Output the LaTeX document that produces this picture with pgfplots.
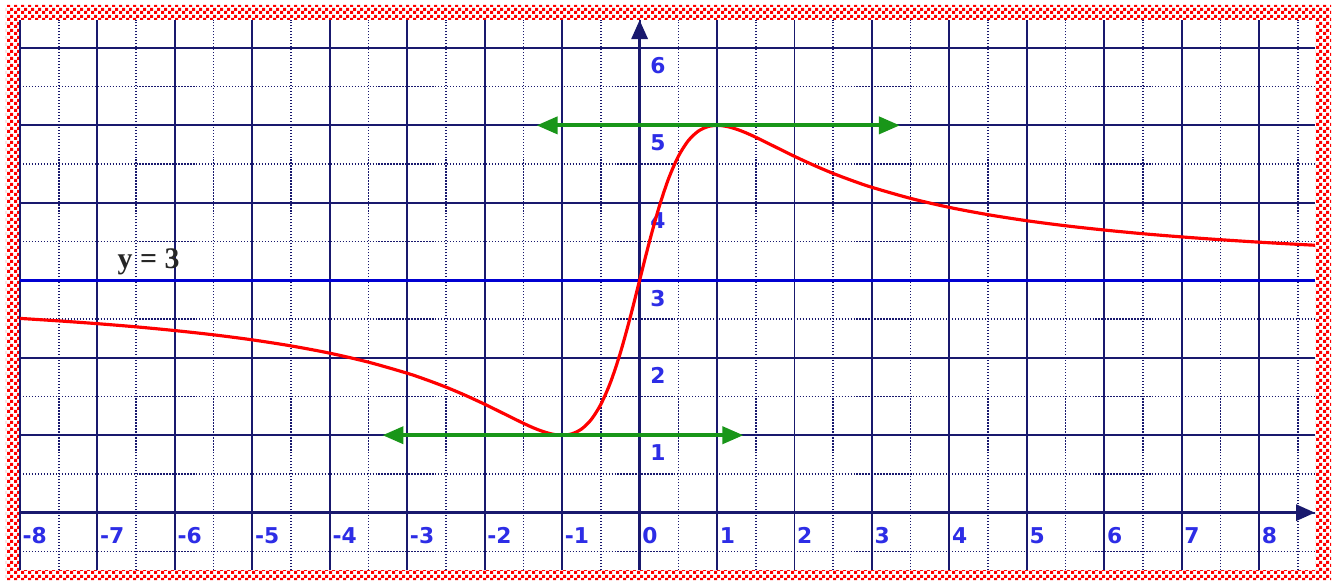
\documentclass[border=0pt]{standalone}
\usepackage{fontspec}
\setmainfont{DejaVu Sans}
\newfontfamily\serifb{Liberation Serif}
\usepackage{pgfplots}
\pgfplotsset{compat=1.18}
\usetikzlibrary{arrows.meta,patterns}

\definecolor{gridnavy}{RGB}{25,25,110}
\definecolor{ticklab}{RGB}{45,45,230}
\definecolor{arrowgreen}{RGB}{25,150,25}
\definecolor{asym}{RGB}{0,0,210}

\pgfdeclarepatternformonly{finecheck}{\pgfpointorigin}{\pgfpoint{2pt}{2pt}}{\pgfpoint{2pt}{2pt}}{%
  \pgfpathrectangle{\pgfpointorigin}{\pgfpoint{1pt}{1pt}}%
  \pgfpathrectangle{\pgfpoint{1pt}{1pt}}{\pgfpoint{1pt}{1pt}}%
  \pgfusepath{fill}}

\begin{document}
\begin{tikzpicture}
\useasboundingbox (0,0) rectangle (13.32,5.80);
\fill[white] (0,0) rectangle (13.32,5.80);
\fill[pattern=finecheck, pattern color=red, even odd rule]
  (0.06,0) rectangle (13.31,5.75) (0.20,0.10) rectangle (13.15,5.60);
\begin{axis}[
  at={(0.20cm,0.10cm)}, anchor=south west,
  scale only axis, width=12.95cm, height=5.5cm,
  xmin=-8, xmax=8.72, ymin=-0.74, ymax=6.36,
  axis lines=middle,
  axis line style={gridnavy, line width=0.9pt, -{Triangle[length=0.19cm,width=0.16cm]}},
  xtick={-8,...,8},
  xticklabels={-8,-7,-6,-5,-4,-3,-2,-1,0,1,2,3,4,5,6,7,8},
  minor xtick={-7.5,-6.5,...,8.5},
  ytick={0,...,6},
  yticklabels={,1,2,3,4,5,6},
  minor ytick={-0.5,0.5,...,5.5},
  hide obscured x ticks=false,
  hide obscured y ticks=false,
  grid=both,
  major grid style={gridnavy, line width=0.55pt},
  minor grid style={gridnavy, line width=0.45pt, dash pattern=on 0.35pt off 0.5pt},
  major tick length=0pt, minor tick length=0pt,
  xticklabel style={font=\fontsize{6.2}{7}\selectfont\bfseries, text=ticklab,
    anchor=north west, inner sep=0pt, xshift=0.02cm, yshift=-0.14cm},
  yticklabel style={font=\fontsize{6.2}{7}\selectfont\bfseries, text=ticklab,
    anchor=north west, inner sep=0pt, xshift=0.10cm, yshift=-0.09cm},
  clip=true,
]
% horizontal asymptote
\addplot[asym, line width=0.9pt] coordinates {(-8,3) (8.72,3)};
% curve
\addplot[red, line width=0.9pt, smooth] coordinates {
(-8,2.508) (-7.5,2.476) (-7,2.44) (-6.5,2.399) (-6,2.351) (-5.5,2.296) (-5,2.231)
(-4.5,2.153) (-4,2.059) (-3.5,1.943) (-3,1.8) (-2.75,1.715) (-2.5,1.621) (-2.25,1.515)
(-2,1.4) (-1.75,1.277) (-1.5,1.154) (-1.375,1.097) (-1.25,1.049) (-1.125,1.014) (-1,1)
(-0.875,1.018) (-0.75,1.08) (-0.625,1.202) (-0.5,1.4) (-0.375,1.685) (-0.25,2.059)
(-0.125,2.508) (0,3) (0.125,3.492) (0.25,3.941) (0.375,4.315) (0.5,4.6) (0.625,4.798)
(0.75,4.92) (0.875,4.982) (1,5) (1.125,4.986) (1.25,4.951) (1.375,4.903) (1.5,4.846)
(1.75,4.723) (2,4.6) (2.25,4.485) (2.5,4.379) (2.75,4.285) (3,4.2) (3.5,4.057) (4,3.941)
(4.5,3.847) (5,3.769) (5.5,3.704) (6,3.649) (6.5,3.601) (7,3.56) (7.5,3.524) (8,3.492)
(8.5,3.464) (8.75,3.451)};
% horizontal tangents
\addplot[arrowgreen, line width=1.1pt,
  {Triangle[length=0.21cm,width=0.17cm]}-{Triangle[length=0.21cm,width=0.17cm]}]
  coordinates {(-1.33,5) (3.36,5)};
\addplot[arrowgreen, line width=1.1pt,
  {Triangle[length=0.21cm,width=0.17cm]}-{Triangle[length=0.21cm,width=0.17cm]}]
  coordinates {(-3.32,1) (1.34,1)};
\node[font=\serifb\bfseries\fontsize{8.5}{9}\selectfont, text=black!85] at (axis cs:-6.34,3.24) {y = 3};
\end{axis}
\end{tikzpicture}
\end{document}
